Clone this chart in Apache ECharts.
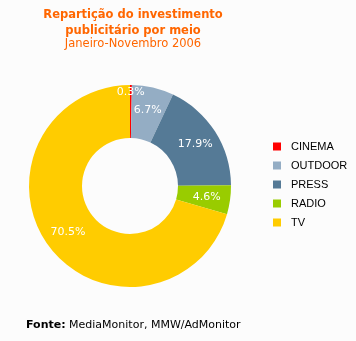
<!DOCTYPE html>
<html><head><meta charset="utf-8">
<script src="https://cdn.jsdelivr.net/npm/echarts@6/dist/echarts.min.js"></script>
<style>html,body{margin:0;padding:0;background:#fcfcfc}#c{width:356px;height:341px}</style>
</head><body><div id="c"></div>
<script>
const categories = ["CINEMA", "OUTDOOR", "PRESS", "RADIO", "TV"];
const values = [0.3, 6.7, 17.9, 4.6, 70.5];
const colors = ["#ff0000", "#94adc4", "#557a96", "#99cc00", "#ffcc00"];
const chart = echarts.init(document.getElementById('c'));
chart.setOption({
  backgroundColor: '#fcfcfc',
  animation: false,
  title: [
    {text: 'Repartição do investimento\npublicitário por meio', left: 128, textAlign: 'center', top: 2,
     textStyle: {color: '#ff6600', fontFamily: 'DejaVu Sans', fontSize: 11.5, fontWeight: 'bold', lineHeight: 16}},
    {text: 'Janeiro-Novembro 2006', left: 128, textAlign: 'center', top: 33,
     textStyle: {color: '#ff6600', fontFamily: 'DejaVu Sans', fontSize: 11.5, fontWeight: 'normal'}},
    {text: '{b|Fonte:} MediaMonitor, MMW/AdMonitor', left: 21, top: 315,
     textStyle: {rich: {b: {fontWeight: 'bold', fontFamily: 'DejaVu Sans', fontSize: 11, color: '#000'}},
       fontFamily: 'DejaVu Sans', fontSize: 11, color: '#000', fontWeight: 'normal'}}
  ],
  legend: {
    orient: 'vertical', left: 268, top: 136, itemWidth: 8, itemHeight: 8, itemGap: 8, icon: 'rect',
    textStyle: {fontFamily: 'Liberation Sans', fontSize: 11, color: '#000', padding: [0,0,0,5]},
    data: categories
  },
  series: [{
    type: 'pie', center: [130, 186], radius: [48, 101], startAngle: 90, clockwise: true,
    avoidLabelOverlap: false,
    labelLayout: {hideOverlap: false},
    label: {position: 'inside', formatter: p => p.value.toFixed(1) + '%', color: '#fff',
      fontFamily: 'DejaVu Sans', fontSize: 11, textBorderWidth: 0},
    labelLine: {show: false},
    emphasis: {disabled: true},
    itemStyle: {borderWidth: 0},
    data: categories.map((c, i) => ({name: c, value: values[i], itemStyle: {color: colors[i]},
      label: i === 0 ? {offset: [0, -16]} : undefined}))
  }]
});
</script></body></html>
